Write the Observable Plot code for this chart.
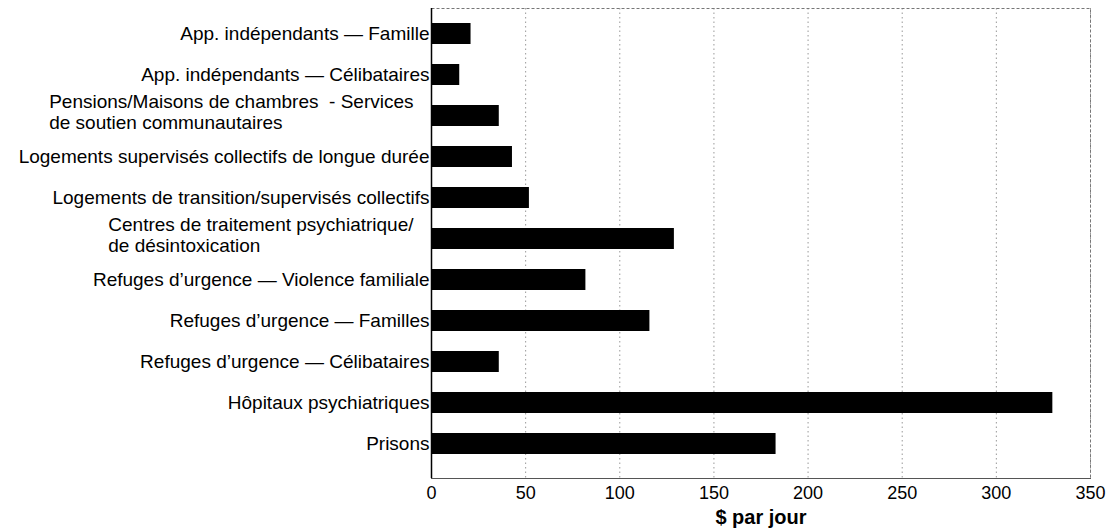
<!DOCTYPE html>
<html><head><meta charset="utf-8">
<script src="https://cdn.jsdelivr.net/npm/d3@7"></script>
<script src="https://cdn.jsdelivr.net/npm/@observablehq/plot@0.6"></script>
<style>html,body{margin:0;padding:0;background:#fff} svg{display:block}</style>
</head><body><div id="chart"></div>
<script>
const categories = [
  "App. indépendants — Famille",
  "App. indépendants — Célibataires",
  "Pensions/Maisons de chambres\u00a0 - Services\nde soutien communautaires",
  "Logements supervisés collectifs de longue durée",
  "Logements de transition/supervisés collectifs",
  "Centres de traitement psychiatrique/\nde désintoxication",
  "Refuges d’urgence — Violence familiale",
  "Refuges d’urgence — Familles",
  "Refuges d’urgence — Célibataires",
  "Hôpitaux psychiatriques",
  "Prisons"
];
const values = [21, 15, 36, 43, 52, 129, 82, 116, 36, 330, 183];
const xTicks = [0, 50, 100, 150, 200, 250, 300, 350];
const xLabel = "$ par jour";

const data = categories.map((c, i) => ({label: c, value: values[i]}));
const FONT = "'Liberation Sans', Arial, sans-serif";
const FS = 19;

const ctx = document.createElement("canvas").getContext("2d");
ctx.font = `${FS}px ${FONT}`;
function labelMark(c) {
  const lines = c.split("\n");
  if (lines.length > 1) {
    const w = Math.max(...lines.map(l => ctx.measureText(l).width));
    return Plot.text([c], {y: d => d, text: d => d, frameAnchor: "left", textAnchor: "start",
      dx: -(w + 18), dy: -4, fontSize: FS, lineHeight: 1.12, fill: "black"});
  }
  return Plot.text([c], {y: d => d, text: d => d, frameAnchor: "left", textAnchor: "end",
    dx: -2, fontSize: FS, fill: "black"});
}

const chart = Plot.plot({
  width: 1107,
  height: 529,
  marginLeft: 431,
  marginRight: 17,
  marginTop: 8,
  marginBottom: 51,
  style: {fontFamily: FONT, color: "black", background: "white"},
  x: {domain: [0, 350], ticks: xTicks},
  y: {domain: categories, paddingInner: 0.5, paddingOuter: 0.25, insetBottom: 9, axis: null},
  marks: [
    Plot.gridX(xTicks, {stroke: "#999", strokeOpacity: 1, strokeDasharray: "1.5,3"}),
    Plot.frame({stroke: "#777", strokeDasharray: "3,2"}),
    Plot.frame({anchor: "bottom", stroke: "#555"}),
    Plot.barX(data, {x: "value", y: "label", fill: "black"}),
    Plot.ruleX([0], {stroke: "black", strokeWidth: 1.5}),
    Plot.axisX(xTicks, {tickSize: 0, tickPadding: 8, fontSize: 18, label: null}),
    ...categories.map(labelMark),
    Plot.text([xLabel], {text: d => d, frameAnchor: "bottom", lineAnchor: "top", dy: 31,
      fontSize: 20, fontWeight: "bold", fill: "black"})
  ]
});
document.getElementById("chart").appendChild(chart);
</script>
</body></html>
